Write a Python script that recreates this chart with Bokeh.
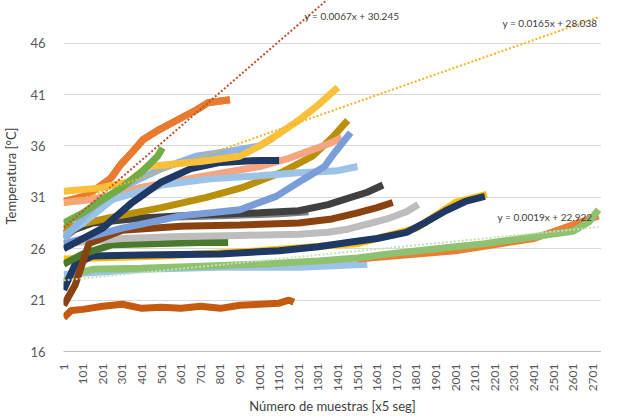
import math
from bokeh.plotting import figure
from bokeh.models import Range1d, FixedTicker, Label
from bokeh.embed import file_html
from bokeh.resources import INLINE

# ---------------- data ----------------
x_ticks = [1, 101, 201, 301, 401, 501, 601, 701, 801, 901, 1001, 1101, 1201, 1301,
           1401, 1501, 1601, 1701, 1801, 1901, 2001, 2101, 2201, 2301, 2401, 2501,
           2601, 2701]
y_ticks = [16, 21, 26, 31, 36, 41, 46]

lblue3_x = [1, 400, 800, 1200, 1550]
lblue3_y = [23.5, 24.0, 24.2, 24.2, 24.5]

orange2_x = [1500, 2000, 2400, 2730]
orange2_y = [25.0, 25.8, 27.0, 29.2]

yellow2_x = [1, 500, 1000, 1500, 1800, 2000, 2160]
yellow2_y = [25.0, 25.3, 25.8, 26.5, 28.0, 30.5, 31.3]

green_x = [1, 60, 150, 400, 700, 1000, 1300, 1500, 1660, 1950, 2150, 2300, 2450, 2600, 2680, 2730]
green_y = [22.8, 23.6, 24.0, 24.1, 24.3, 24.5, 24.8, 25.1, 25.5, 26.1, 26.5, 26.9, 27.3, 27.7, 28.6, 29.8]

navy_x = [1, 60, 150, 400, 800, 1100, 1300, 1450, 1600, 1750, 1850, 1950, 2050, 2150]
navy_y = [22.0, 24.5, 25.3, 25.4, 25.5, 25.8, 26.2, 26.6, 27.0, 27.6, 28.6, 29.7, 30.6, 31.1]

dgreen_x = [1, 100, 250, 500, 700, 840]
dgreen_y = [24.5, 25.5, 26.4, 26.5, 26.6, 26.6]

lgray_x = [1, 300, 600, 900, 1200, 1350, 1450, 1550, 1650, 1750, 1810]
lgray_y = [26.5, 27.0, 27.2, 27.3, 27.4, 27.6, 27.9, 28.4, 28.9, 29.6, 30.3]

brown_x = [1, 60, 130, 300, 600, 900, 1200, 1370, 1500, 1600, 1680]
brown_y = [20.5, 22.5, 26.5, 27.8, 28.2, 28.3, 28.5, 28.9, 29.5, 30.0, 30.5]

dgray_x = [1, 150, 400, 700, 1000, 1200, 1350, 1450, 1550, 1630]
dgray_y = [27.5, 28.5, 29.0, 29.3, 29.5, 29.7, 30.3, 30.9, 31.5, 32.2]

mgray_x = [1, 100, 400, 800, 1100, 1250]
mgray_y = [27.0, 28.6, 29.0, 29.2, 29.4, 29.6]

olive_x = [1, 230, 500, 730, 920, 1120, 1270, 1370, 1450]
olive_y = [28.0, 29.0, 30.0, 31.0, 32.0, 33.5, 35.0, 36.8, 38.5]

orange_x = [1, 120, 243, 292, 341, 405, 489, 588, 686, 736, 849]
orange_y = [30.6, 31.2, 32.9, 34.2, 35.2, 36.6, 37.6, 38.6, 39.6, 40.2, 40.5]

salmon_x = [1, 150, 400, 700, 1000, 1150, 1250, 1350, 1420]
salmon_y = [30.5, 30.8, 32.0, 33.0, 34.0, 34.8, 35.5, 36.2, 36.8]

lblue1_x = [1, 100, 250, 500, 750, 1000, 1200, 1400, 1500]
lblue1_y = [27.3, 28.5, 30.8, 32.2, 32.8, 33.1, 33.4, 33.6, 34.0]

blue2_x = [1, 300, 600, 900, 1085, 1219, 1332, 1381, 1465]
blue2_y = [26.5, 28.0, 29.2, 29.8, 31.1, 32.7, 34.0, 35.3, 37.3]

lblue2_x = [1, 150, 300, 500, 676, 850, 1000, 1070]
lblue2_y = [27.0, 30.0, 32.0, 33.8, 35.0, 35.5, 36.0, 36.8]

navy2_x = [1, 200, 350, 500, 650, 800, 1000, 1100]
navy2_y = [26.0, 28.0, 30.5, 32.5, 33.8, 34.4, 34.6, 34.6]

yellow_x = [1, 180, 330, 430, 700, 900, 1000, 1100, 1200, 1300, 1400]
yellow_y = [31.6, 31.9, 32.5, 34.0, 34.5, 35.0, 36.0, 37.2, 38.5, 40.0, 41.7]

green1_x = [1, 100, 200, 300, 400, 480, 505]
green1_y = [28.5, 29.5, 30.8, 32.0, 33.5, 35.0, 35.8]

low_x = [1, 40, 100, 200, 300, 400, 500, 600, 700, 800, 900, 1000, 1100, 1150, 1175]
low_y = [19.3, 20.0, 20.1, 20.4, 20.6, 20.2, 20.3, 20.2, 20.4, 20.2, 20.5, 20.6, 20.7, 21.0, 20.8]

# trendlines (slope, intercept, x-span) as written in the labels
trend_red = (0.0165, 28.038, [1, 1400])
trend_yellow = (0.0067, 30.245, [1, 2730])
trend_green = (0.0019, 22.922, [1, 2730])
trend_labels = ["y = 0.0067x + 30.245", "y = 0.0165x + 28.038", "y = 0.0019x + 22.922"]

# ---------------- figure ----------------
FONT = "Lato"
p = figure(width=601, height=417, output_backend="svg", toolbar_location=None,
           x_range=Range1d(0, 2745), y_range=Range1d(16, 50.16),
           min_border_left=55, min_border_right=0, min_border_top=0, min_border_bottom=64)
p.outline_line_color = None
p.background_fill_color = "white"

series = [
    (lblue3_x, lblue3_y, "#9DC3E6"),
    (orange2_x, orange2_y, "#ED7D31"),
    (yellow2_x, yellow2_y, "#FFC000"),
    (green_x, green_y, "#8FC270"),
    (navy_x, navy_y, "#1F3864"),
    (dgreen_x, dgreen_y, "#4A7A2C"),
    (lgray_x, lgray_y, "#BDBDBD"),
    (brown_x, brown_y, "#8A4210"),
    (mgray_x, mgray_y, "#7F7F7F"),
    (dgray_x, dgray_y, "#404040"),
    (olive_x, olive_y, "#B8900A"),
    (orange_x, orange_y, "#E97A2F"),
    (salmon_x, salmon_y, "#F4A582"),
    (lblue1_x, lblue1_y, "#9DC3E6"),
    (blue2_x, blue2_y, "#7A9CD8"),
    (lblue2_x, lblue2_y, "#8DB4E2"),
    (navy2_x, navy2_y, "#203864"),
    (yellow_x, yellow_y, "#F9C13A"),
    (green1_x, green1_y, "#70AD47"),
    (low_x, low_y, "#C55A11"),
]
for xs, ys, col in series:
    p.line(xs, ys, line_color=col, line_width=7)

# the rising orange part drawn again on top, as in the reference
p.line(orange_x[2:], orange_y[2:], line_color="#E97A2F", line_width=7)

for (m, b, span), col in [(trend_red, "#C0522A"), (trend_yellow, "#F0B429"), (trend_green, "#C5E0B4")]:
    p.line(span, [m * v + b for v in span], line_color=col, line_width=2, line_dash="2 2")

label_pos = [(1230, 48.7), (2240, 48.0), (2215, 29.1)]
for txt, (lx, ly) in zip(trend_labels, label_pos):
    p.add_layout(Label(x=lx, y=ly, text=txt, text_font=FONT, text_font_size="10px",
                       text_color="#404040", text_baseline="middle"))

# axes
p.xgrid.grid_line_color = None
p.ygrid.grid_line_color = "#D9D9D9"
p.ygrid.ticker = FixedTicker(ticks=y_ticks)

xa = p.xaxis[0]
xa.ticker = FixedTicker(ticks=x_ticks)
xa.major_label_orientation = math.pi / 2
xa.axis_line_color = "#BFBFBF"
xa.major_tick_line_color = None
xa.minor_tick_line_color = None
xa.major_label_text_font = FONT
xa.major_label_text_font_size = "12px"
xa.major_label_text_color = "#595959"
xa.major_label_standoff = 6
xa.axis_label = "Número de muestras [x5 seg]"
xa.axis_label_text_font = FONT
xa.axis_label_text_font_size = "13px"
xa.axis_label_text_font_style = "normal"
xa.axis_label_text_color = "#404040"
xa.axis_label_standoff = 4

ya = p.yaxis[0]
ya.ticker = FixedTicker(ticks=y_ticks)
ya.axis_line_color = None
ya.major_tick_line_color = None
ya.minor_tick_line_color = None
ya.major_label_text_font = FONT
ya.major_label_text_font_size = "13px"
ya.major_label_text_color = "#595959"
ya.major_label_standoff = 12
ya.axis_label = "Temperatura [°C]"
ya.axis_label_text_font = FONT
ya.axis_label_text_font_size = "13px"
ya.axis_label_text_font_style = "normal"
ya.axis_label_text_color = "#404040"
ya.axis_label_standoff = 8

open("out.html", "w").write(file_html(p, INLINE))
